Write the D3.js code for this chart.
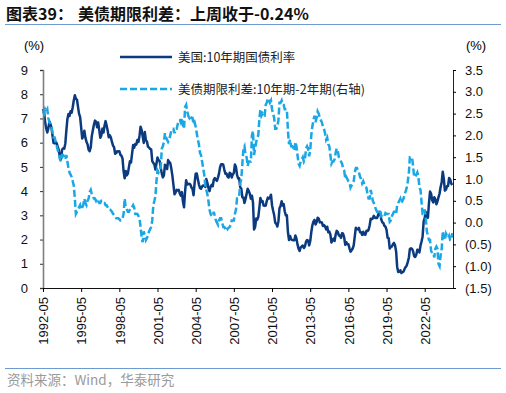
<!DOCTYPE html>
<html>
<head>
<meta charset="utf-8">
<script src="https://cdn.jsdelivr.net/npm/d3@7"></script>
<style>
body{margin:0;background:#fff}
svg{display:block}
</style>
</head>
<body>
<div id="chart"></div>
<script>
// monthly series, first point = 1992-05
const startMonth = '1992-05';
const tenYear = [
    7.39,7.26,6.84,6.59,6.42,6.59,6.87,6.77,                     // 1992
    6.60,6.26,5.98,5.97,6.04,5.96,5.81,5.68,5.36,5.33,5.72,5.77, // 1993
    5.75,5.97,6.48,6.97,7.18,7.10,7.30,7.24,7.46,7.74,7.96,7.81, // 1994
    7.78,7.47,7.20,7.06,6.63,6.17,6.28,6.49,6.20,6.04,5.93,5.71, // 1995
    5.65,5.81,6.27,6.51,6.74,6.91,6.87,6.64,6.83,6.53,6.20,6.30, // 1996
    6.58,6.42,6.69,6.89,6.71,6.49,6.22,6.30,6.21,6.03,5.88,5.81, // 1997
    5.54,5.57,5.65,5.64,5.65,5.50,5.46,5.34,4.81,4.53,4.83,4.65, // 1998
    4.72,5.00,5.23,5.18,5.54,5.90,5.79,5.94,5.92,6.11,6.03,6.28, // 1999
    6.66,6.52,6.26,5.99,6.44,6.10,6.05,5.83,5.80,5.74,5.72,5.24, // 2000
    5.16,5.10,4.89,5.14,5.39,5.28,5.24,4.97,4.73,4.57,4.65,5.09, // 2001
    5.04,4.91,5.28,5.21,5.16,4.93,4.65,4.26,3.87,3.94,4.05,4.03, // 2002
    4.05,3.90,3.81,3.96,3.57,3.33,3.98,4.45,4.27,4.29,4.30,4.27, // 2003
    4.15,4.08,3.83,4.35,4.72,4.73,4.50,4.28,4.13,4.10,4.19,4.23, // 2004
    4.22,4.17,4.50,4.34,4.14,4.00,4.18,4.26,4.20,4.46,4.54,4.47, // 2005
    4.42,4.57,4.72,4.99,5.11,5.11,5.09,4.88,4.72,4.73,4.60,4.56, // 2006
    4.76,4.72,4.56,4.69,4.75,5.10,5.00,4.67,4.52,4.53,4.15,4.10, // 2007
    3.74,3.74,3.51,3.68,3.88,4.10,4.01,3.89,3.69,3.81,3.53,2.42, // 2008
    2.52,2.87,2.82,2.93,3.29,3.72,3.56,3.59,3.40,3.39,3.40,3.59, // 2009
    3.73,3.69,3.73,3.85,3.42,3.20,3.01,2.70,2.65,2.54,2.76,3.29, // 2010
    3.39,3.58,3.41,3.46,3.17,3.00,3.00,2.30,1.98,2.15,2.01,1.98, // 2011
    1.97,1.97,2.17,2.05,1.80,1.62,1.53,1.68,1.72,1.75,1.65,1.72, // 2012
    1.91,1.98,1.96,1.76,1.93,2.30,2.58,2.74,2.81,2.62,2.72,2.90, // 2013
    2.86,2.71,2.72,2.71,2.56,2.60,2.54,2.42,2.53,2.30,2.33,2.21, // 2014
    1.88,1.98,2.04,1.94,2.20,2.36,2.32,2.17,2.17,2.07,2.26,2.24, // 2015
    2.09,1.78,1.89,1.81,1.81,1.64,1.50,1.56,1.63,1.76,2.14,2.49, // 2016
    2.43,2.42,2.48,2.30,2.30,2.19,2.32,2.21,2.20,2.36,2.35,2.40, // 2017
    2.58,2.86,2.84,2.87,2.98,2.91,2.89,2.89,3.00,3.15,3.12,2.83, // 2018
    2.71,2.68,2.57,2.53,2.40,2.07,2.06,1.63,1.70,1.71,1.81,1.86, // 2019
    1.76,1.50,0.87,0.66,0.67,0.73,0.62,0.65,0.68,0.79,0.87,0.93, // 2020
    1.08,1.26,1.61,1.64,1.62,1.52,1.32,1.28,1.37,1.58,1.56,1.47, // 2021
    1.76,1.93,2.13,2.75,2.90,3.14,2.90,2.90,3.52,3.98,3.89,3.62, // 2022
    3.53,3.75,3.66,3.46,3.57,3.75,3.90,4.17,4.38,4.80,4.50,4.02, // 2023
    4.06,4.21,4.21,4.54,4.48,4.31,4.25                           // 2024
];
const spread = [
    2.55,2.50,2.60,2.55,2.60,2.40,2.30,2.25,                     // 1992
    2.20,2.05,1.95,1.95,1.85,1.75,1.65,1.60,1.45,1.40,1.55,1.55, // 1993
    1.50,1.45,1.55,1.40,1.25,1.15,1.10,1.05,0.95,0.85,0.55,0.20, // 1994
    0.25,0.30,0.35,0.40,0.30,0.35,0.40,0.55,0.45,0.40,0.50,0.55, // 1995
    0.70,0.75,0.65,0.60,0.55,0.55,0.50,0.55,0.50,0.45,0.45,0.50, // 1996
    0.50,0.45,0.45,0.40,0.40,0.35,0.30,0.30,0.28,0.25,0.20,0.18, // 1997
    0.15,0.10,0.10,0.10,0.08,0.05,0.05,0.10,0.20,0.55,0.35,0.30, // 1998
    0.25,0.25,0.30,0.35,0.35,0.40,0.35,0.20,0.20,0.20,0.15,0.10, // 1999
    -0.10,-0.35,-0.45,-0.20,-0.30,-0.40,-0.35,-0.30,-0.20,-0.15,-0.10,0.05, // 2000
    0.40,0.50,0.60,0.95,1.20,1.15,1.20,1.25,1.70,1.75,1.85,2.05, // 2001
    1.95,1.90,1.85,1.90,2.00,2.10,2.15,2.15,2.05,2.15,2.15,2.25, // 2002
    2.35,2.35,2.30,2.40,2.25,2.15,2.65,2.70,2.55,2.45,2.40,2.45, // 2003
    2.40,2.40,2.25,2.30,2.20,2.05,1.90,1.80,1.60,1.55,1.40,1.25, // 2004
    1.10,0.85,0.75,0.65,0.50,0.30,0.20,0.15,0.15,0.25,0.15,0.05, // 2005
    0.00,-0.05,0.05,0.10,0.10,0.00,-0.10,-0.10,-0.15,-0.10,-0.15,-0.12, // 2006
    -0.10,-0.05,0.05,0.05,0.05,0.20,0.30,0.55,0.55,0.60,0.90,1.00, // 2007
    1.35,1.70,1.75,1.55,1.50,1.30,1.40,1.40,1.40,2.00,2.10,1.55, // 2008
    1.70,1.85,1.95,2.00,2.35,2.60,2.45,2.50,2.45,2.45,2.70,2.75, // 2009
    2.85,2.80,2.75,2.80,2.60,2.50,2.40,2.15,2.15,2.20,2.35,2.75, // 2010
    2.75,2.80,2.70,2.70,2.60,2.60,2.60,2.10,1.80,1.90,1.75,1.75, // 2011
    1.70,1.65,1.85,1.75,1.55,1.35,1.30,1.40,1.45,1.50,1.40,1.45, // 2012
    1.70,1.75,1.70,1.52,1.65,2.00,2.20,2.35,2.45,2.30,2.40,2.55, // 2013
    2.50,2.40,2.35,2.30,2.20,2.15,2.05,1.90,1.95,1.80,1.75,1.55, // 2014
    1.35,1.40,1.40,1.45,1.60,1.70,1.65,1.50,1.45,1.40,1.35,1.25, // 2015
    1.20,1.00,1.05,1.00,0.95,0.92,0.80,0.85,0.88,0.95,1.15,1.25, // 2016
    1.25,1.20,1.15,1.05,1.00,0.90,0.95,0.88,0.82,0.80,0.65,0.55, // 2017
    0.55,0.75,0.65,0.50,0.45,0.38,0.30,0.25,0.25,0.30,0.25,0.15, // 2018
    0.18,0.15,0.15,0.22,0.20,0.20,0.20,0.02,0.05,0.15,0.20,0.25, // 2019
    0.25,0.20,0.40,0.45,0.50,0.55,0.45,0.50,0.55,0.65,0.72,0.80, // 2020
    0.95,1.15,1.50,1.50,1.50,1.30,1.05,1.05,1.10,1.15,1.05,0.80, // 2021
    0.75,0.45,0.20,0.20,0.30,0.10,-0.20,-0.30,-0.40,-0.40,-0.65,-0.70, // 2022
    -0.70,-0.80,-0.60,-0.55,-0.60,-0.95,-1.00,-0.75,-0.60,-0.20,-0.35,-0.40, // 2023
    -0.25,-0.30,-0.35,-0.30,-0.40,-0.40,-0.24                    // 2024
];
const xTickLabels = ['1992-05','1995-05','1998-05','2001-05','2004-05','2007-05',
    '2010-05','2013-05','2016-05','2019-05','2022-05'];
const leftTicks = [0,1,2,3,4,5,6,7,8,9];
const rightTicks = [-1.5,-1.0,-0.5,0.0,0.5,1.0,1.5,2.0,2.5,3.0,3.5];
const seriesNames = ['美国:10年期国债利率','美债期限利差:10年期-2年期(右轴)'];
const titleParts = ['图表39：','美债期限利差：上周收于-0.24%'];
const colors = ['#0b3a7e','#1aa7e6'];

const W = 506, H = 393;
const latin = '"Liberation Sans", Arial, "Noto Sans CJK SC", sans-serif';
const cjk = '"Noto Sans CJK SC", "Liberation Sans", sans-serif';
const parseMonth = d3.timeParse('%Y-%m');

function draw_chart(){
    let svg = d3.select('#chart').append('svg')
        .attr('width', W)
        .attr('height', H);

    let left = 43, right = 453, top = 70, bottom = 288;
    let start = parseMonth(startMonth);
    let dates = tenYear.map((d,i)=>d3.timeMonth.offset(start, i));

    let x = d3.scaleTime()
        .domain([start, d3.timeDay.offset(parseMonth('2024-07'), 20)])
        .range([left, right]);
    let yL = d3.scaleLinear().domain([0,9]).range([bottom, top]);
    let yR = d3.scaleLinear().domain([-1.5,3.5]).range([bottom, top]);

    // title and rules
    [6, 78].forEach((tx,i)=>{
        svg.append('text')
            .attr('x', tx).attr('y', 20)
            .style('font-family', cjk)
            .style('font-size', '16px')
            .style('font-weight', 'bold')
            .attr('fill', '#111')
            .text(titleParts[i]);
    });
    svg.append('line')
        .attr('x1', 5).attr('x2', 501).attr('y1', 24.5).attr('y2', 24.5)
        .attr('stroke', '#6e9ad2').attr('stroke-width', 1);
    svg.append('line')
        .attr('x1', 5).attr('x2', 501).attr('y1', 368.5).attr('y2', 368.5)
        .attr('stroke', '#6e9ad2').attr('stroke-width', 1);
    svg.append('text')
        .attr('x', 7).attr('y', 385)
        .style('font-family', cjk)
        .style('font-size', '13.5px')
        .attr('fill', '#9a9a9a')
        .text('资料来源：Wind，华泰研究');

    // lines
    let line1 = d3.line()
        .x((d,i)=>x(dates[i]))
        .y(d=>yL(d));
    let line2 = d3.line()
        .x((d,i)=>x(dates[i]))
        .y(d=>yR(d));

    svg.append('path')
        .datum(tenYear)
        .attr('d', line1)
        .attr('fill', 'none')
        .attr('stroke', colors[0])
        .attr('stroke-width', 2.5)
        .attr('stroke-linejoin', 'round');
    svg.append('path')
        .datum(spread)
        .attr('d', line2)
        .attr('fill', 'none')
        .attr('stroke', colors[1])
        .attr('stroke-width', 2.5)
        .attr('stroke-dasharray', '7,3');

    // left axis
    let axL = d3.axisLeft(yL).tickValues(leftTicks).tickSize(3).tickPadding(12)
        .tickFormat(d3.format('d'));
    let gL = svg.append('g').attr('transform', `translate(${left},0)`).call(axL);
    gL.select('.domain').attr('stroke', '#7f7f7f').attr('stroke-width', 1.6);
    gL.selectAll('.tick line').attr('stroke', '#333');

    // right axis
    let fmtR = d=> d<0 ? '(' + d3.format('.1f')(-d) + ')' : d3.format('.1f')(d);
    let axR = d3.axisRight(yR).tickValues(rightTicks).tickSize(3).tickPadding(9)
        .tickFormat(fmtR);
    let gR = svg.append('g').attr('transform', `translate(${right},0)`).call(axR);
    gR.select('.domain').attr('stroke', '#222');

    // x axis
    let axX = d3.axisBottom(x)
        .tickValues(xTickLabels.map(parseMonth))
        .tickSize(4)
        .tickSizeOuter(0)
        .tickFormat(d3.timeFormat('%Y-%m'));
    let gX = svg.append('g').attr('transform', `translate(0,${bottom})`).call(axX);
    gX.select('.domain').attr('stroke', '#111');
    gX.selectAll('.tick text')
        .attr('transform', 'rotate(-90)')
        .attr('text-anchor', 'end')
        .attr('x', -9).attr('y', 0).attr('dy', '0.36em');

    svg.selectAll('.tick text')
        .style('font-family', latin)
        .style('font-size', '13px')
        .attr('fill', '#111');

    // unit labels
    svg.append('text').attr('x', 34).attr('y', 50)
        .attr('text-anchor', 'middle')
        .style('font-family', latin).style('font-size', '13px')
        .text('(%)');
    svg.append('text').attr('x', 476).attr('y', 50)
        .attr('text-anchor', 'middle')
        .style('font-family', latin).style('font-size', '13px')
        .text('(%)');

    // legend
    let legend = svg.append('g').attr('transform', 'translate(120,57)');
    seriesNames.forEach((name,i)=>{
        let g = legend.append('g').attr('transform', `translate(0,${i*32})`);
        g.append('line')
            .attr('x1', 0).attr('x2', 52)
            .attr('stroke', colors[i])
            .attr('stroke-width', 2.5)
            .attr('stroke-dasharray', i===1 ? '7,3' : null);
        g.append('text')
            .attr('x', 58).attr('y', 0).attr('dy', '0.36em')
            .style('font-family', cjk).style('font-size', '12.5px')
            .attr('fill', '#222')
            .text(name);
    });
}

draw_chart();
</script>
</body>
</html>
